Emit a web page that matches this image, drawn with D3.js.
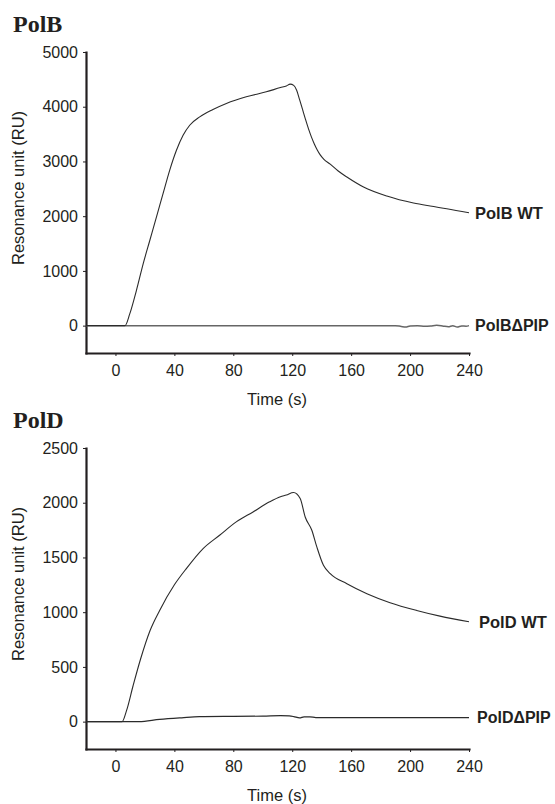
<!DOCTYPE html>
<html>
<head>
<meta charset="utf-8">
<script src="https://d3js.org/d3.v7.min.js"></script>
<style>
body { margin: 0; background: #fff; }
text { font-family: "Liberation Sans", Arial, sans-serif; fill: #231f20; }
</style>
</head>
<body>
<div id="chart"></div>
<script>
// tick labels
var xTicks = [0, 40, 80, 120, 160, 200, 240];
var polbTicks = [0, 1000, 2000, 3000, 4000, 5000];
var poldTicks = [0, 500, 1000, 1500, 2000, 2500];

// PolB WT (time s, RU)
var polbWtTime = [-20, 6.5, 9.7, 14.2, 18.8, 23.3, 27.8, 32.3, 36.8, 41.4, 45.9, 50.4, 57.2, 66.2, 75.3, 88.8, 102.4, 112, 116, 118.6, 121, 123, 125, 127, 129, 131, 133, 135, 137, 139, 141.5, 145.8, 151, 157.1, 168.4, 184.2, 202.3, 213.6, 224.9, 240];
var polbWtRU   = [0, 0, 214, 641, 1129, 1556, 1983, 2411, 2838, 3204, 3479, 3662, 3814, 3949, 4059, 4181, 4272, 4350, 4380, 4413, 4390, 4300, 4130, 3950, 3770, 3600, 3450, 3320, 3210, 3120, 3040, 2950, 2830, 2716, 2533, 2368, 2240, 2185, 2136, 2063];

// PolB dPIP
var polbDpTime = [-20, 190, 194, 197, 200, 205, 210, 214, 218, 222, 226, 229, 232, 235, 238, 240];
var polbDpRU   = [0, 0, -15, -25, -5, 0, -10, -5, 5, -5, -20, 0, -25, -5, -10, 0];

// PolD WT
var poldWtTime = [-20, 4.5, 7.5, 12, 17, 23.5, 30, 40, 48.1, 59.5, 70.7, 82, 93.4, 104.7, 112, 116, 120.9, 125.4, 128.8, 133.3, 136.7, 141.2, 145.8, 157.1, 170.7, 186.4, 204.5, 220.3, 240];
var poldWtRU   = [0, 0, 100, 330, 570, 833, 1016, 1250, 1398, 1581, 1703, 1825, 1916, 2008, 2054, 2070, 2093, 2039, 1870, 1749, 1596, 1428, 1352, 1260, 1169, 1087, 1016, 964, 912];

// PolD dPIP
var poldDpTime = [-20, 16, 30, 45, 57, 80, 100, 112, 118, 121, 125, 128, 132, 136, 240];
var poldDpRU   = [0, 0, 20, 35, 45, 48, 50, 55, 52, 46, 34, 44, 44, 37, 37];

var W = 555, H = 804;
var svg = d3.select("#chart").append("svg")
    .attr("width", W)
    .attr("height", H);

function panel(offset, title, yDomain, yTicks, series) {
    var g = svg.append("g").attr("transform", "translate(0," + offset + ")");

    var x = d3.scaleLinear().domain([-20, 240]).range([86, 469]);
    var y = d3.scaleLinear().domain(yDomain).range([353, 52]);

    g.append("text")
        .attr("x", 13).attr("y", 32)
        .style("font-family", "'Liberation Serif', 'Times New Roman', serif")
        .style("font-weight", "bold")
        .style("font-size", "24px")
        .text(title);

    var xa = g.append("g").attr("transform", "translate(0,353)")
        .call(d3.axisBottom(x).tickValues(xTicks).tickFormat(d3.format("d"))
            .tickSize(3).tickPadding(9).tickSizeOuter(0));
    var ya = g.append("g").attr("transform", "translate(86,0)")
        .call(d3.axisLeft(y).tickValues(yTicks).tickFormat(d3.format("d"))
            .tickSize(3).tickPadding(5).tickSizeOuter(0));

    [xa, ya].forEach(function(a){
        a.select(".domain").attr("stroke", "#231f20").attr("stroke-width", 2.2).attr("stroke-linecap", "square");
        a.selectAll(".tick line").attr("stroke", "#231f20").attr("stroke-width", 1);
        a.selectAll(".tick text").style("font-size", "16px").attr("fill", "#231f20");
    });

    g.append("text")
        .attr("transform", "translate(24,188) rotate(-90)")
        .attr("text-anchor", "middle")
        .style("font-size", "16.5px")
        .text("Resonance unit (RU)");

    g.append("text")
        .attr("x", 277).attr("y", 405)
        .attr("text-anchor", "middle")
        .style("font-size", "16.5px")
        .text("Time (s)");

    var line = d3.line()
        .x(function(d){ return x(d[0]); })
        .y(function(d){ return y(d[1]); })
        .curve(d3.curveMonotoneX);

    series.forEach(function(s){
        var pts = d3.zip(s.t, s.v);
        g.append("path")
            .datum(pts)
            .attr("fill", "none")
            .attr("stroke", s.color)
            .attr("stroke-width", s.width)
            .attr("d", line);
        g.append("text")
            .attr("x", x(240) + s.dx)
            .attr("y", y(s.v[s.v.length - 1]))
            .attr("dy", "0.36em")
            .style("font-weight", "bold")
            .style("font-size", s.size)
            .text(s.label);
    });
}

panel(0, "PolB", [-500, 5000], polbTicks, [
    {t: polbDpTime, v: polbDpRU, label: "PolB\u0394PIP", color: "#666", width: 1.5, dx: 6, size: "16px"},
    {t: polbWtTime, v: polbWtRU, label: "PolB WT", color: "#2b2b2b", width: 1.1, dx: 6, size: "16.5px"}
]);

panel(396, "PolD", [-250, 2500], poldTicks, [
    {t: poldDpTime, v: poldDpRU, label: "PolD\u0394PIP", color: "#2b2b2b", width: 1.2, dx: 8, size: "16px"},
    {t: poldWtTime, v: poldWtRU, label: "PolD WT", color: "#2b2b2b", width: 1.1, dx: 10, size: "16.5px"}
]);
</script>
</body>
</html>
